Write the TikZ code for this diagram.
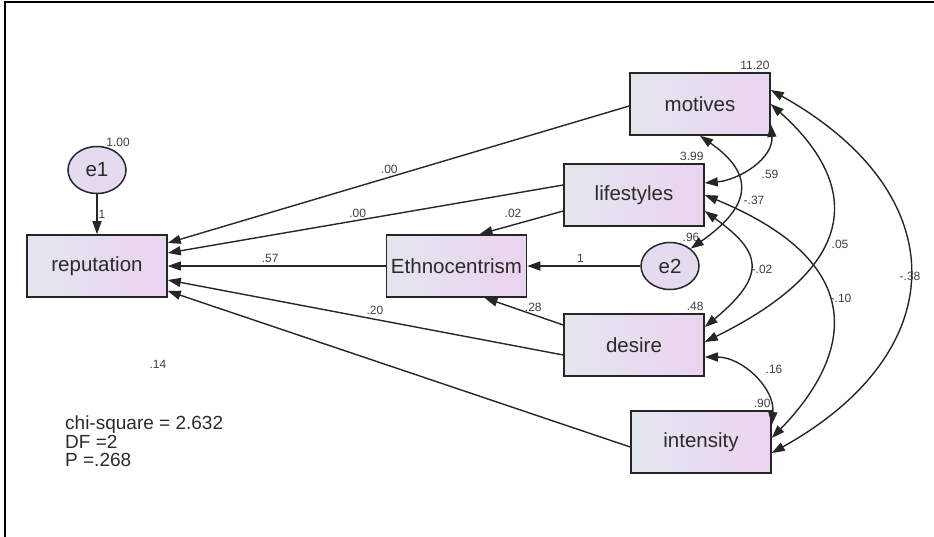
\documentclass[tikz,border=0pt]{standalone}
\usepackage{fontspec}
\setmainfont{Liberation Sans}
\usetikzlibrary{arrows.meta,positioning,shapes.geometric}
\definecolor{semline}{HTML}{262626}
\definecolor{semleft}{HTML}{E3E6EE}
\definecolor{semright}{HTML}{EBD3F0}
\definecolor{semerr}{HTML}{E6DAF0}
\definecolor{semtext}{HTML}{2A2A2A}
\definecolor{semest}{HTML}{404040}
\tikzset{
  obs/.style={draw=semline,line width=1.5pt,left color=semleft,right color=semright,minimum width=140pt,minimum height=62pt,inner sep=0pt,font=\fontsize{20.5}{22}\selectfont,text=semtext},
  errv/.style={ellipse,draw=semline,line width=1.5pt,fill=semerr,minimum width=58pt,minimum height=47pt,inner sep=0pt,font=\fontsize{20.5}{22}\selectfont,text=semtext},
  est/.style={font=\fontsize{12}{13}\selectfont,text=semest,inner sep=1pt},
  regar/.style={-{Triangle[length=13pt,width=9pt]},draw=semline,line width=1.4pt},
  covar/.style={{Triangle[length=13pt,width=9pt]}-{Triangle[length=13pt,width=9pt]},draw=semline,line width=1.4pt},
  frame/.style={draw=black,line width=1.8pt},
}
\begin{document}
\begin{tikzpicture}[x=1pt,y=1pt]
  \useasboundingbox (0,0) rectangle (934,-537);
  \draw[frame] (5,-537) -- (5,-2) -- (934,-2);
  % variables
  \node[obs] (reputation) at (97,-266) {reputation};
  \node[errv,above=40pt of reputation] (e1) {e1};
  \node[obs,right=218pt of reputation] (ethno) {Ethnocentrism};
  \node[errv,right=113pt of ethno] (e2) {e2};
  \node[obs] (motives) at (700,-104) {motives};
  \node[obs] (lifestyles) at (634,-195) {lifestyles};
  \node[obs] (desire) at (634,-345) {desire};
  \node[obs] (intensity) at (701,-442) {intensity};
  % variances
  \node[est,anchor=south,yshift=5pt] (ve1) at (e1.north east) {1.00};
  \node[est,anchor=south east,yshift=1pt] (vmot) at (motives.north east) {11.20};
  \node[est,anchor=south east,yshift=1pt] (vlif) at (lifestyles.north east) {3.99};
  \node[est,anchor=south,yshift=6pt] (ve2) at (e2.north east) {.96};
  \node[est,anchor=south east,yshift=1pt] (vdes) at (desire.north east) {.48};
  \node[est,anchor=south east,yshift=1pt] (vint) at (intensity.north east) {.90};
  % regression weights
  \draw[regar] (e1) -- (reputation) node[est,right,midway] (w1) {1};
  \draw[regar] (e2) -- (ethno) node[est,above=2pt,pos=.53] (w2) {1};
  \draw[regar] (ethno) -- (reputation) node[est,above=2pt,pos=.53] (b57) {.57};
  \draw[regar] ([yshift=-2pt]motives.west) -- ([yshift=23pt]reputation.east) node[est,above=2pt,pos=.52] (b00a) {.00};
  \draw[regar] ([yshift=10pt]lifestyles.west) -- ([yshift=13pt]reputation.east) node[est,above=1pt,pos=.52] (b00b) {.00};
  \draw[regar] ([yshift=-16pt]lifestyles.west) -- ([xshift=23pt]ethno.north) node[est,above=6pt,pos=.6] (b02) {.02};
  \draw[regar] ([yshift=20pt]desire.west) -- ([xshift=28pt]ethno.south) node[est,above=1pt,pos=.38] (b28) {.28};
  \draw[regar] ([yshift=-10pt]desire.west) -- ([yshift=-14pt]reputation.east) node[est,above=3pt,pos=.476] (b20) {.20};
  \draw[regar] ([yshift=-5pt]intensity.west) -- ([yshift=-25pt]reputation.east);
  \node[est] (b14) at (158,-364) {.14};
  % covariances
  \draw[covar] ([yshift=12pt]lifestyles.east) to[out=5,in=-85] ([yshift=-20pt]motives.east);
  \draw[covar] (motives.south) to[out=-35,in=35,looseness=1.6] (e2.40);
  \draw[covar] (motives.east) .. controls (850,-175) and (875,-258) .. ([yshift=3pt]desire.east);
  \draw[covar] ([yshift=14pt]motives.east) .. controls (955,-193) and (955,-351) .. ([yshift=-11pt]intensity.east);
  \draw[covar] ([yshift=-16pt]lifestyles.east) .. controls (760,-251) and (769,-274) .. ([yshift=18pt]desire.east);
  \draw[covar] (lifestyles.east) .. controls (889,-271) and (837,-371) .. ([yshift=4pt]intensity.east);
  \draw[covar] ([yshift=-12pt]desire.east) to[out=0,in=85] ([yshift=17pt]intensity.east);
  \node[est] (c59) at (770,-174) {.59};
  \node[est] (c37) at (754,-200) {-.37};
  \node[est] (c05) at (840,-244) {.05};
  \node[est] (c02) at (762,-269) {-.02};
  \node[est] (c10) at (841,-298) {-.10};
  \node[est] (c38) at (910,-276) {-.38};
  \node[est] (c16) at (774,-369) {.16};
  % fit
  \node[anchor=north west,align=left,inner sep=0pt,font=\fontsize{19}{18.5}\selectfont,text=semtext] (fit) at (65,-416) {chi-square = 2.632\\DF =2\\P =.268};
\end{tikzpicture}
\end{document}
